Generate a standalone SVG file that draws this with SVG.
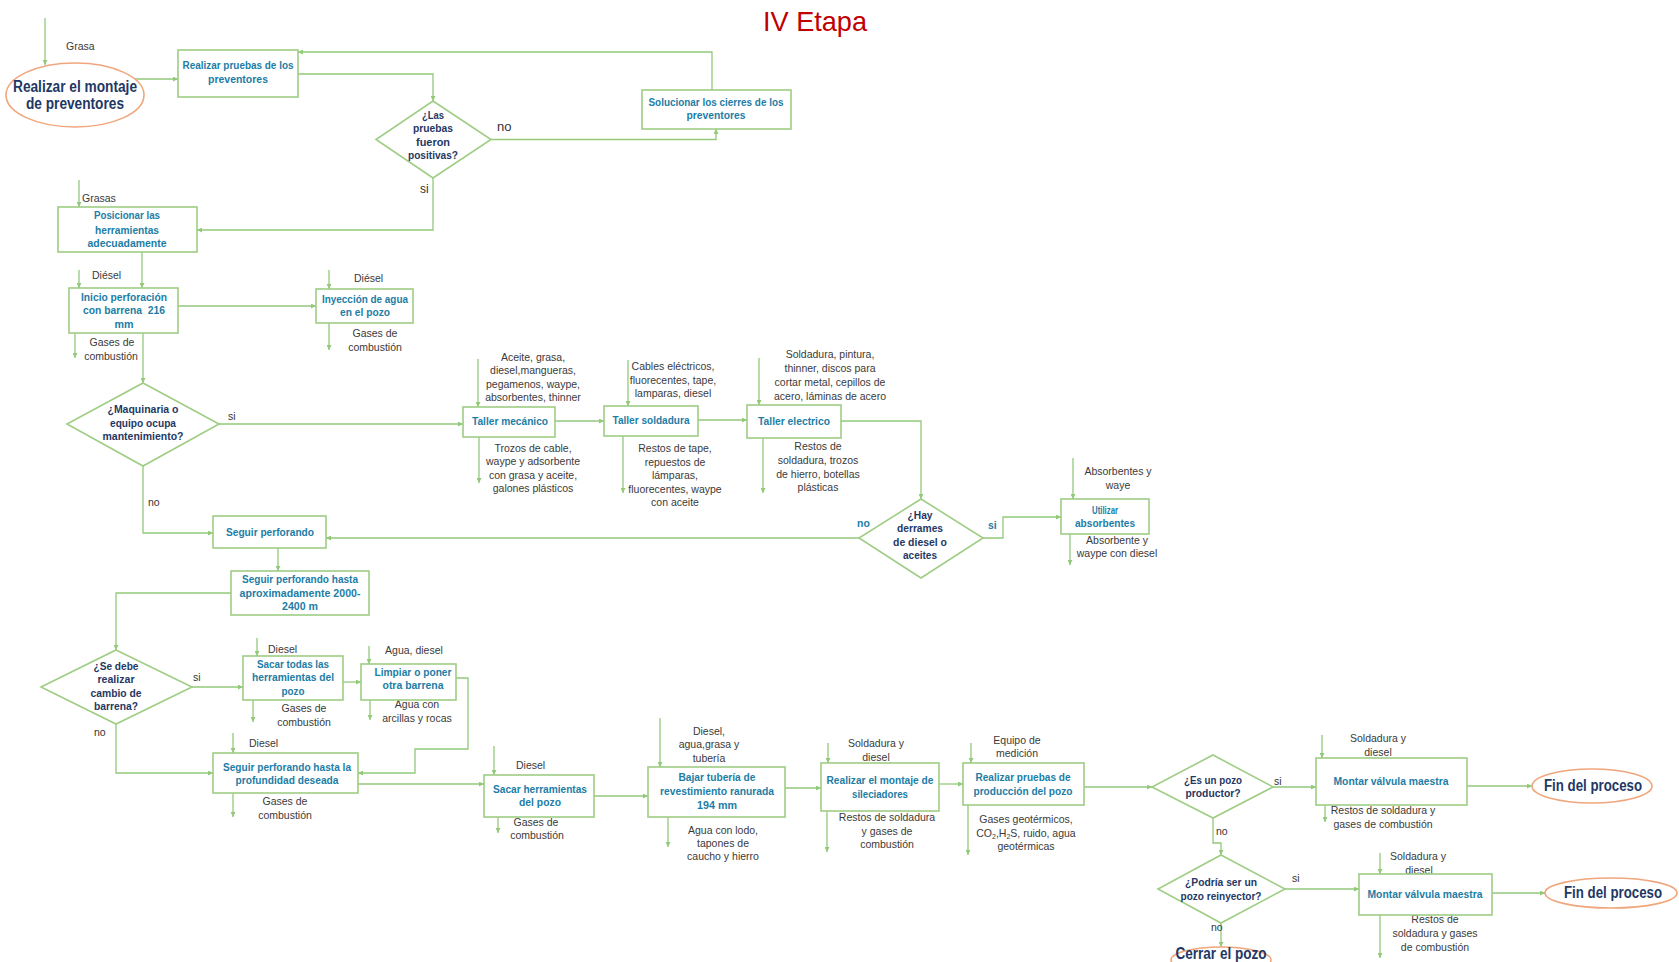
<svg xmlns="http://www.w3.org/2000/svg" width="1679" height="962" viewBox="0 0 1679 962">
<style>
  .box{fill:#fff;stroke:#9FCD84;stroke-width:1.6}
  .dia{fill:#fff;stroke:#9FCD84;stroke-width:1.6}
  .ell{fill:#fff;stroke:#F0A67C;stroke-width:1.6}
  .c{fill:none;stroke:#93C97B;stroke-width:1.3;marker-end:url(#ah)}
  text{font-family:"Liberation Sans",Arial,sans-serif}
  .lb{font-weight:bold;font-size:11.5px;fill:#1D7DA6;text-anchor:middle}
  .dq{font-weight:bold;font-size:11.5px;fill:#1F3864;text-anchor:middle}
  .el{font-weight:bold;font-size:16px;fill:#1F3864;text-anchor:middle}
  .an{font-size:10.5px;fill:#3A3A3A;text-anchor:middle}
  .st{text-anchor:start}
  .yn{font-size:10.5px;fill:#333}
  .ynb{font-size:10.5px;font-weight:bold;fill:#1D7DA6}
  .title{font-size:28px;fill:#C00000;text-anchor:middle}
</style>
<defs>
  <marker id="ah" viewBox="0 0 6 6" refX="6" refY="3" markerWidth="5" markerHeight="5" markerUnits="userSpaceOnUse" orient="auto">
    <path d="M0,0 L6,3 L0,6 z" fill="#93C97B"/>
  </marker>
</defs>

<rect width="1679" height="962" fill="#fff"/>

<text class="title" x="815" y="31" textLength="104" lengthAdjust="spacingAndGlyphs">IV Etapa</text>

<!-- connectors -->
<g id="connectors">
  <path class="c" d="M45,18 V65"/>
  <path class="c" d="M135,79 H178"/>
  <path class="c" d="M298,74 H433 V101"/>
  <path class="c" d="M491,139.5 H716 V129"/>
  <path class="c" d="M712,90 V52 H298"/>
  <path class="c" d="M433,178 V230 H197"/>
  <path class="c" d="M79,180 V207"/>
  <path class="c" d="M142,252 V288"/>
  <path class="c" d="M79,270 V288"/>
  <path class="c" d="M178,306 H316"/>
  <path class="c" d="M329,270 V289"/>
  <path class="c" d="M329,323 V350"/>
  <path class="c" d="M75,333 V358"/>
  <path class="c" d="M143,333 V383"/>
  <path class="c" d="M219,424 H463"/>
  <path class="c" d="M478,359 V407"/>
  <path class="c" d="M479,437 V483"/>
  <path class="c" d="M555,421 H604"/>
  <path class="c" d="M628,360 V406"/>
  <path class="c" d="M623,436 V493"/>
  <path class="c" d="M698,420 H747"/>
  <path class="c" d="M759,358 V405"/>
  <path class="c" d="M763,438 V493"/>
  <path class="c" d="M841,421 H921 V499"/>
  <path class="c" d="M859,538 H326"/>
  <path class="c" d="M983,538 H1003 V517 H1061"/>
  <path class="c" d="M1073,458 V499"/>
  <path class="c" d="M1070,534 V565"/>
  <path class="c" d="M143,466 V533 H213"/>
  <path class="c" d="M278,548 V571"/>
  <path class="c" d="M231,593 H116 V650"/>
  <path class="c" d="M192,687 H243"/>
  <path class="c" d="M257,638 V656"/>
  <path class="c" d="M253,700 V722"/>
  <path class="c" d="M343,682 H361"/>
  <path class="c" d="M369,646 V664"/>
  <path class="c" d="M370,700 V720"/>
  <path class="c" d="M456,678 H468 V749 H415 V773 H358"/>
  <path class="c" d="M116,724 V773 H213"/>
  <path class="c" d="M233,733 V753"/>
  <path class="c" d="M233,793 V817"/>
  <path class="c" d="M358,784 H484"/>
  <path class="c" d="M494,746 V775"/>
  <path class="c" d="M498,817 V833"/>
  <path class="c" d="M594,796 H648"/>
  <path class="c" d="M660,718 V767"/>
  <path class="c" d="M668,817 V847"/>
  <path class="c" d="M785,788 H821"/>
  <path class="c" d="M828,743 V763"/>
  <path class="c" d="M827,811 V852"/>
  <path class="c" d="M939,784 H963"/>
  <path class="c" d="M971,743 V763"/>
  <path class="c" d="M968,805 V855"/>
  <path class="c" d="M1084,787 H1152"/>
  <path class="c" d="M1273,787 H1316"/>
  <path class="c" d="M1322,735 V758"/>
  <path class="c" d="M1325,805 V822"/>
  <path class="c" d="M1467,786 H1532"/>
  <path class="c" d="M1213,818 V843 H1221 V855"/>
  <path class="c" d="M1285,889 H1359"/>
  <path class="c" d="M1380,853 V874"/>
  <path class="c" d="M1380,915 V958"/>
  <path class="c" d="M1492,893 H1545"/>
  <path class="c" d="M1221,923 V947"/>

  <!-- branch labels -->
  <text class="yn" x="497" y="131" style="font-size:13px">no</text>
  <text class="yn" x="420" y="193" style="font-size:12px">si</text>
  <text class="yn" x="228" y="420">si</text>
  <text class="yn" x="148" y="506">no</text>
  <text class="ynb" x="857" y="527">no</text>
  <text class="ynb" x="988" y="529">si</text>
  <text class="yn" x="193" y="681">si</text>
  <text class="yn" x="94" y="736">no</text>
  <text class="yn" x="1274" y="785">si</text>
  <text class="yn" x="1216" y="835">no</text>
  <text class="yn" x="1292" y="882">si</text>
  <text class="yn" x="1211" y="931">no</text>

  <!-- input / output flow labels -->
  <text class="an st" x="66" y="50">Grasa</text>
  <text class="an st" x="82" y="202">Grasas</text>
  <text class="an st" x="92" y="279">Diésel</text>
  <text class="an st" x="354" y="282">Diésel</text>
  <text class="an" x="112" y="346">Gases de</text>
  <text class="an" x="111" y="360">combustión</text>
  <text class="an" x="375" y="337">Gases de</text>
  <text class="an" x="375" y="351">combustión</text>

  <text class="an" x="533" y="361">Aceite, grasa,</text>
  <text class="an" x="533" y="374">diesel,mangueras,</text>
  <text class="an" x="533" y="388">pegamenos, waype,</text>
  <text class="an" x="533" y="401">absorbentes, thinner</text>
  <text class="an" x="533" y="452">Trozos de cable,</text>
  <text class="an" x="533" y="465">waype y adsorbente</text>
  <text class="an" x="533" y="479">con grasa y aceite,</text>
  <text class="an" x="533" y="492">galones plásticos</text>

  <text class="an" x="673" y="370">Cables eléctricos,</text>
  <text class="an" x="673" y="384">fluorecentes, tape,</text>
  <text class="an" x="673" y="397">lamparas, diesel</text>
  <text class="an" x="675" y="452">Restos de tape,</text>
  <text class="an" x="675" y="466">repuestos de</text>
  <text class="an" x="675" y="479">lámparas,</text>
  <text class="an" x="675" y="493">fluorecentes, waype</text>
  <text class="an" x="675" y="506">con aceite</text>

  <text class="an" x="830" y="358">Soldadura, pintura,</text>
  <text class="an" x="830" y="372">thinner, discos para</text>
  <text class="an" x="830" y="386">cortar metal, cepillos de</text>
  <text class="an" x="830" y="400">acero, láminas de acero</text>
  <text class="an" x="818" y="450">Restos de</text>
  <text class="an" x="818" y="464">soldadura, trozos</text>
  <text class="an" x="818" y="478">de hierro, botellas</text>
  <text class="an" x="818" y="491">plásticas</text>

  <text class="an" x="1118" y="475">Absorbentes y</text>
  <text class="an" x="1118" y="489">waye</text>
  <text class="an" x="1117" y="544">Absorbente y</text>
  <text class="an" x="1117" y="557">waype con diesel</text>

  <text class="an st" x="268" y="653">Diesel</text>
  <text class="an" x="304" y="712">Gases de</text>
  <text class="an" x="304" y="726">combustión</text>
  <text class="an" x="414" y="654">Agua, diesel</text>
  <text class="an" x="417" y="708">Agua con</text>
  <text class="an" x="417" y="722">arcillas y rocas</text>
  <text class="an st" x="249" y="747">Diesel</text>
  <text class="an" x="285" y="805">Gases de</text>
  <text class="an" x="285" y="819">combustión</text>

  <text class="an st" x="516" y="769">Diesel</text>
  <text class="an" x="536" y="826">Gases de</text>
  <text class="an" x="537" y="839">combustión</text>
  <text class="an" x="709" y="735">Diesel,</text>
  <text class="an" x="709" y="748">agua,grasa y</text>
  <text class="an" x="709" y="762">tubería</text>
  <text class="an" x="723" y="834">Agua con lodo,</text>
  <text class="an" x="723" y="847">tapones de</text>
  <text class="an" x="723" y="860">caucho y hierro</text>
  <text class="an" x="876" y="747">Soldadura y</text>
  <text class="an" x="876" y="761">diesel</text>
  <text class="an" x="887" y="821">Restos de soldadura</text>
  <text class="an" x="887" y="835">y gases de</text>
  <text class="an" x="887" y="848">combustión</text>
  <text class="an" x="1017" y="744">Equipo de</text>
  <text class="an" x="1017" y="757">medición</text>
  <text class="an" x="1026" y="823">Gases geotérmicos,</text>
  <text class="an" x="1026" y="837">CO<tspan dy="2" font-size="7">2</tspan><tspan dy="-2">,H</tspan><tspan dy="2" font-size="7">2</tspan><tspan dy="-2">S, ruido, agua</tspan></text>
  <text class="an" x="1026" y="850">geotérmicas</text>
  <text class="an" x="1378" y="742">Soldadura y</text>
  <text class="an" x="1378" y="756">diesel</text>
  <text class="an" x="1383" y="814">Restos de soldadura y</text>
  <text class="an" x="1383" y="828">gases de combustión</text>
  <text class="an" x="1418" y="860">Soldadura y</text>
  <text class="an" x="1419" y="874">diesel</text>
  <text class="an" x="1435" y="923">Restos de</text>
  <text class="an" x="1435" y="937">soldadura y gases</text>
  <text class="an" x="1435" y="951">de combustión</text>
</g>

<!-- nodes -->
<g id="n-montaje-preventores">
  <ellipse class="ell" cx="75" cy="95" rx="69" ry="32"/>
  <text class="el" x="75" y="92" textLength="124" lengthAdjust="spacingAndGlyphs">Realizar el montaje</text>
  <text class="el" x="75" y="109" textLength="98" lengthAdjust="spacingAndGlyphs">de preventores</text>
</g>
<g id="n-pruebas-preventores">
  <rect class="box" x="178" y="50" width="120" height="47"/>
  <text class="lb" x="238" y="69" textLength="111" lengthAdjust="spacingAndGlyphs">Realizar pruebas de los</text>
  <text class="lb" x="238" y="83" textLength="60" lengthAdjust="spacingAndGlyphs">preventores</text>
</g>
<g id="n-pruebas-positivas">
  <polygon class="dia" points="433,101 491,139.5 433,178 376,139.5"/>
  <text class="dq" x="433" y="119" textLength="22" lengthAdjust="spacingAndGlyphs">¿Las</text>
  <text class="dq" x="433" y="132" textLength="40" lengthAdjust="spacingAndGlyphs">pruebas</text>
  <text class="dq" x="433" y="146" textLength="34" lengthAdjust="spacingAndGlyphs">fueron</text>
  <text class="dq" x="433" y="159" textLength="50" lengthAdjust="spacingAndGlyphs">positivas?</text>
</g>
<g id="n-solucionar-cierres">
  <rect class="box" x="642" y="90" width="149" height="39"/>
  <text class="lb" x="716" y="106" textLength="135" lengthAdjust="spacingAndGlyphs">Solucionar los cierres de los</text>
  <text class="lb" x="716" y="119" textLength="59" lengthAdjust="spacingAndGlyphs">preventores</text>
</g>
<g id="n-posicionar">
  <rect class="box" x="58" y="207" width="139" height="45"/>
  <text class="lb" x="127" y="219" textLength="66" lengthAdjust="spacingAndGlyphs">Posicionar las</text>
  <text class="lb" x="127" y="234" textLength="64" lengthAdjust="spacingAndGlyphs">herramientas</text>
  <text class="lb" x="127" y="247" textLength="79" lengthAdjust="spacingAndGlyphs">adecuadamente</text>
</g>
<g id="n-inicio-perforacion">
  <rect class="box" x="69" y="288" width="109" height="45"/>
  <text class="lb" x="124" y="301" textLength="86" lengthAdjust="spacingAndGlyphs">Inicio perforación</text>
  <text class="lb" x="124" y="314" textLength="82" lengthAdjust="spacingAndGlyphs" xml:space="preserve">con barrena  216</text>
  <text class="lb" x="124" y="328" textLength="19" lengthAdjust="spacingAndGlyphs">mm</text>
</g>
<g id="n-inyeccion-agua">
  <rect class="box" x="316" y="289" width="97" height="34"/>
  <text class="lb" x="365" y="303" textLength="86" lengthAdjust="spacingAndGlyphs">Inyección de agua</text>
  <text class="lb" x="365" y="316" textLength="50" lengthAdjust="spacingAndGlyphs">en el pozo</text>
</g>
<g id="n-mantenimiento">
  <polygon class="dia" points="143,383 219,424 143,466 67,424"/>
  <text class="dq" x="143" y="413" textLength="71" lengthAdjust="spacingAndGlyphs">¿Maquinaria o</text>
  <text class="dq" x="143" y="427" textLength="66" lengthAdjust="spacingAndGlyphs">equipo ocupa</text>
  <text class="dq" x="143" y="440" textLength="81" lengthAdjust="spacingAndGlyphs">mantenimiento?</text>
</g>
<g id="n-taller-mecanico">
  <rect class="box" x="463" y="407" width="92" height="30"/>
  <text class="lb" x="510" y="425" textLength="76" lengthAdjust="spacingAndGlyphs">Taller mecánico</text>
</g>
<g id="n-taller-soldadura">
  <rect class="box" x="604" y="406" width="94" height="30"/>
  <text class="lb" x="651" y="424" textLength="77" lengthAdjust="spacingAndGlyphs">Taller soldadura</text>
</g>
<g id="n-taller-electrico">
  <rect class="box" x="747" y="405" width="94" height="33"/>
  <text class="lb" x="794" y="425" textLength="72" lengthAdjust="spacingAndGlyphs">Taller electrico</text>
</g>
<g id="n-derrames">
  <polygon class="dia" points="921,499 983,538 921,578 859,538"/>
  <text class="dq" x="920" y="519" textLength="25" lengthAdjust="spacingAndGlyphs">¿Hay</text>
  <text class="dq" x="920" y="532" textLength="46" lengthAdjust="spacingAndGlyphs">derrames</text>
  <text class="dq" x="920" y="546" textLength="54" lengthAdjust="spacingAndGlyphs">de diesel o</text>
  <text class="dq" x="920" y="559" textLength="34" lengthAdjust="spacingAndGlyphs">aceites</text>
</g>
<g id="n-utilizar-absorbentes">
  <rect class="box" x="1061" y="499" width="88" height="35"/>
  <text class="lb" x="1105" y="514" textLength="26" lengthAdjust="spacingAndGlyphs">Utilizar</text>
  <text class="lb" x="1105" y="527" textLength="60" lengthAdjust="spacingAndGlyphs">absorbentes</text>
</g>
<g id="n-seguir-perforando">
  <rect class="box" x="213" y="516" width="113" height="32"/>
  <text class="lb" x="270" y="536" textLength="88" lengthAdjust="spacingAndGlyphs">Seguir perforando</text>
</g>
<g id="n-seguir-2000">
  <rect class="box" x="231" y="571" width="138" height="44"/>
  <text class="lb" x="300" y="583" textLength="116" lengthAdjust="spacingAndGlyphs">Seguir perforando hasta</text>
  <text class="lb" x="300" y="597" textLength="121" lengthAdjust="spacingAndGlyphs">aproximadamente 2000-</text>
  <text class="lb" x="300" y="610" textLength="36" lengthAdjust="spacingAndGlyphs">2400 m</text>
</g>
<g id="n-cambio-barrena">
  <polygon class="dia" points="116,650 192,687 116,724 41,687"/>
  <text class="dq" x="116" y="670" textLength="45" lengthAdjust="spacingAndGlyphs">¿Se debe</text>
  <text class="dq" x="116" y="683" textLength="37" lengthAdjust="spacingAndGlyphs">realizar</text>
  <text class="dq" x="116" y="697" textLength="51" lengthAdjust="spacingAndGlyphs">cambio de</text>
  <text class="dq" x="116" y="710" textLength="44" lengthAdjust="spacingAndGlyphs">barrena?</text>
</g>
<g id="n-sacar-todas">
  <rect class="box" x="243" y="656" width="100" height="44"/>
  <text class="lb" x="293" y="668" textLength="72" lengthAdjust="spacingAndGlyphs">Sacar todas las</text>
  <text class="lb" x="293" y="681" textLength="82" lengthAdjust="spacingAndGlyphs">herramientas del</text>
  <text class="lb" x="293" y="695" textLength="23" lengthAdjust="spacingAndGlyphs">pozo</text>
</g>
<g id="n-limpiar-barrena">
  <rect class="box" x="361" y="664" width="95" height="36"/>
  <text class="lb" x="413" y="676" textLength="77" lengthAdjust="spacingAndGlyphs">Limpiar o poner</text>
  <text class="lb" x="413" y="689" textLength="61" lengthAdjust="spacingAndGlyphs">otra barrena</text>
</g>
<g id="n-seguir-profundidad">
  <rect class="box" x="213" y="753" width="145" height="40"/>
  <text class="lb" x="287" y="771" textLength="128" lengthAdjust="spacingAndGlyphs">Seguir perforando hasta la</text>
  <text class="lb" x="287" y="784" textLength="103" lengthAdjust="spacingAndGlyphs">profundidad deseada</text>
</g>
<g id="n-sacar-herramientas">
  <rect class="box" x="484" y="775" width="110" height="42"/>
  <text class="lb" x="540" y="793" textLength="94" lengthAdjust="spacingAndGlyphs">Sacar herramientas</text>
  <text class="lb" x="540" y="806" textLength="42" lengthAdjust="spacingAndGlyphs">del pozo</text>
</g>
<g id="n-bajar-tuberia">
  <rect class="box" x="648" y="767" width="137" height="50"/>
  <text class="lb" x="717" y="781" textLength="77" lengthAdjust="spacingAndGlyphs">Bajar tubería de</text>
  <text class="lb" x="717" y="795" textLength="114" lengthAdjust="spacingAndGlyphs">revestimiento ranurada</text>
  <text class="lb" x="717" y="809" textLength="40" lengthAdjust="spacingAndGlyphs">194 mm</text>
</g>
<g id="n-sileciadores">
  <rect class="box" x="821" y="763" width="118" height="48"/>
  <text class="lb" x="880" y="784" textLength="107" lengthAdjust="spacingAndGlyphs">Realizar el montaje de</text>
  <text class="lb" x="880" y="798" textLength="56" lengthAdjust="spacingAndGlyphs">sileciadores</text>
</g>
<g id="n-pruebas-produccion">
  <rect class="box" x="963" y="763" width="121" height="42"/>
  <text class="lb" x="1023" y="781" textLength="95" lengthAdjust="spacingAndGlyphs">Realizar pruebas de</text>
  <text class="lb" x="1023" y="795" textLength="99" lengthAdjust="spacingAndGlyphs">producción del pozo</text>
</g>
<g id="n-pozo-productor">
  <polygon class="dia" points="1213,755 1273,787 1213,818 1152,787"/>
  <text class="dq" x="1213" y="784" textLength="58" lengthAdjust="spacingAndGlyphs">¿Es un pozo</text>
  <text class="dq" x="1213" y="797" textLength="55" lengthAdjust="spacingAndGlyphs">productor?</text>
</g>
<g id="n-valvula-1">
  <rect class="box" x="1316" y="758" width="151" height="47"/>
  <text class="lb" x="1391" y="785" textLength="115" lengthAdjust="spacingAndGlyphs">Montar válvula maestra</text>
</g>
<g id="n-fin-1">
  <ellipse class="ell" cx="1592" cy="786" rx="60" ry="17"/>
  <text class="el" x="1593" y="791" textLength="98" lengthAdjust="spacingAndGlyphs">Fin del proceso</text>
</g>
<g id="n-pozo-reinyector">
  <polygon class="dia" points="1221,855 1285,889 1221,923 1158,889"/>
  <text class="dq" x="1221" y="886" textLength="72" lengthAdjust="spacingAndGlyphs">¿Podría ser un</text>
  <text class="dq" x="1221" y="900" textLength="81" lengthAdjust="spacingAndGlyphs">pozo reinyector?</text>
</g>
<g id="n-valvula-2">
  <rect class="box" x="1359" y="874" width="133" height="41"/>
  <text class="lb" x="1425" y="898" textLength="115" lengthAdjust="spacingAndGlyphs">Montar válvula maestra</text>
</g>
<g id="n-fin-2">
  <ellipse class="ell" cx="1611" cy="893" rx="66" ry="15"/>
  <text class="el" x="1613" y="898" textLength="98" lengthAdjust="spacingAndGlyphs">Fin del proceso</text>
</g>
<g id="n-cerrar-pozo">
  <ellipse class="ell" cx="1221" cy="960" rx="50" ry="13"/>
  <text class="el" x="1221" y="959" textLength="91" lengthAdjust="spacingAndGlyphs">Cerrar el pozo</text>
</g>
</svg>
